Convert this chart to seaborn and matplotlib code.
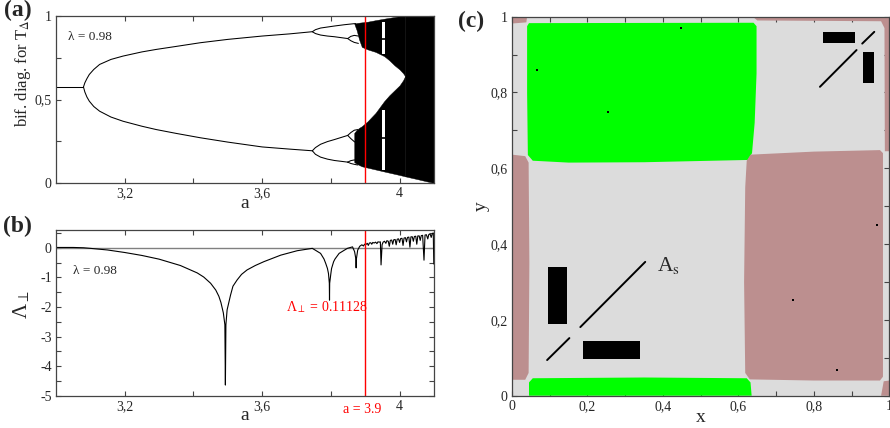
import matplotlib
matplotlib.use("Agg")
import matplotlib.pyplot as plt
import matplotlib.ticker as mticker
import seaborn as sns

# ---------------- panel (a): bifurcation diagram
fixed_a = [3.00, 3.080]
fixed_y = [0.575, 0.575]

p2_up_a = [3.080, 3.084, 3.090, 3.097, 3.110, 3.127, 3.160, 3.195, 3.250, 3.292, 3.350, 3.420, 3.500, 3.600, 3.680, 3.746]
p2_up_y = [0.575, 0.600, 0.625, 0.650, 0.680, 0.710, 0.740, 0.760, 0.785, 0.800, 0.818, 0.840, 0.860, 0.880, 0.893, 0.906]
p2_lo_a = [3.080, 3.084, 3.090, 3.097, 3.110, 3.127, 3.160, 3.195, 3.250, 3.292, 3.350, 3.420, 3.500, 3.600, 3.680, 3.746]
p2_lo_y = [0.575, 0.545, 0.515, 0.490, 0.458, 0.430, 0.395, 0.370, 0.340, 0.320, 0.297, 0.271, 0.245, 0.216, 0.203, 0.193]

# period 4 and 8 branches
p4_branches_a = [
    [3.746, 3.755, 3.770, 3.790, 3.810, 3.840, 3.872],
    [3.746, 3.755, 3.770, 3.790, 3.810, 3.849],
    [3.849, 3.858, 3.868, 3.880],
    [3.849, 3.858, 3.868, 3.880],
    [3.746, 3.755, 3.770, 3.790, 3.810, 3.849],
    [3.849, 3.858, 3.868, 3.878],
    [3.849, 3.858, 3.868, 3.878],
    [3.746, 3.755, 3.770, 3.790, 3.810, 3.849],
    [3.849, 3.858, 3.868, 3.878],
    [3.849, 3.858, 3.868, 3.878],
]
p4_branches_y = [
    [0.906, 0.918, 0.928, 0.934, 0.940, 0.948, 0.955],
    [0.906, 0.895, 0.886, 0.880, 0.876, 0.865],
    [0.865, 0.878, 0.884, 0.880],
    [0.865, 0.852, 0.842, 0.836],
    [0.193, 0.212, 0.232, 0.248, 0.260, 0.285],
    [0.285, 0.302, 0.316, 0.320],
    [0.285, 0.266, 0.248, 0.236],
    [0.193, 0.172, 0.155, 0.143, 0.135, 0.125],
    [0.125, 0.134, 0.138, 0.136],
    [0.125, 0.117, 0.112, 0.108],
]

# chaotic bands: upper band, lower band, and the merged band after the crisis
band_a = [3.868, 3.875, 3.882, 3.890, 3.907, 3.930, 3.955, 3.970, 3.985, 4.000, 4.010, 4.016]
up_band_top = [0.954, 0.958, 0.960, 0.962, 0.966, 0.975, 0.984, 0.989, 0.994, 0.999, 1.000, 1.000]
up_band_bot = [0.954, 0.915, 0.860, 0.815, 0.800, 0.785, 0.760, 0.735, 0.705, 0.680, 0.658, 0.640]
lo_band_top = [0.300, 0.318, 0.330, 0.340, 0.370, 0.420, 0.490, 0.525, 0.555, 0.585, 0.615, 0.640]
lo_band_bot = [0.125, 0.115, 0.108, 0.100, 0.092, 0.081, 0.069, 0.062, 0.055, 0.048, 0.043, 0.040]
merged_a = [4.016, 4.050, 4.100]
merged_top = [1.000, 1.000, 1.000]
merged_bot = [0.040, 0.024, 0.000]

# periodic window inside the chaos
window_a = [3.950, 3.958]
window_lo_band = [0.075, 0.440]
window_hi_band = [0.770, 0.962]
window_orbit = [0.27, 0.86]

a_marked = 3.9
lam_text = "λ = 0.98"

# ---------------- panel (b): transversal Lyapunov exponent
lyap_a = [3.000, 3.050, 3.080, 3.100, 3.150, 3.200, 3.250, 3.300, 3.362, 3.411, 3.430, 3.450,
          3.465, 3.474, 3.480, 3.487, 3.4915, 3.493, 3.4945, 3.498, 3.508, 3.515, 3.527, 3.540,
          3.556, 3.580, 3.605, 3.654, 3.702, 3.746,
          3.770, 3.780, 3.785, 3.790, 3.793, 3.7955, 3.796, 3.7965, 3.800, 3.802, 3.808, 3.812,
          3.824, 3.848, 3.863, 3.869, 3.8730, 3.8735, 3.8740, 3.878,
          3.884, 3.890, 3.895, 3.898, 3.902, 3.906, 3.909, 3.912, 3.916, 3.919, 3.922, 3.926,
          3.930, 3.934, 3.937, 3.941, 3.944, 3.946, 3.949, 3.952, 3.956, 3.960, 3.963, 3.967,
          3.970, 3.973, 3.977, 3.980, 3.983, 3.987, 3.990, 3.993, 3.997, 4.000, 4.003, 4.007,
          4.010, 4.013, 4.017, 4.020, 4.023, 4.027, 4.030, 4.033, 4.037, 4.040, 4.043, 4.047,
          4.050, 4.053, 4.057, 4.060, 4.063, 4.067, 4.071, 4.074, 4.078, 4.082, 4.085, 4.089,
          4.092, 4.095, 4.098, 4.0995]
lyap_v = [0.010, 0.010, 0.000, -0.020, -0.075, -0.160, -0.260, -0.385, -0.600, -0.850, -0.990, -1.200,
          -1.430, -1.640, -1.850, -2.200, -2.600, -4.640, -2.600, -2.100, -1.600, -1.300, -1.090, -0.900,
          -0.750, -0.600, -0.470, -0.250, -0.100, -0.020,
          -0.190, -0.380, -0.530, -0.700, -0.870, -1.200, -1.770, -1.200, -0.870, -0.700, -0.470, -0.380,
          -0.190, -0.020, 0.030, -0.130, -0.400, -0.680, -0.400, -0.080,
          0.050, 0.100, 0.060, 0.120, 0.110, 0.150, 0.080, 0.160, 0.170, 0.120, 0.180, 0.160,
          0.190, 0.140, 0.200, 0.190, 0.200, -0.580, 0.100, 0.190, 0.220, 0.150, 0.240, 0.220,
          0.050, 0.250, 0.260, 0.120, 0.270, 0.280, 0.100, 0.290, 0.300, 0.180, 0.310, 0.320,
          0.080, 0.330, 0.340, 0.200, 0.350, 0.360, 0.020, 0.370, 0.370, 0.220, 0.380, 0.390,
          0.120, 0.400, 0.400, 0.250, 0.410, 0.420, -0.420, 0.430, 0.440, 0.300, 0.450, 0.460,
          0.350, 0.480, 0.500, -0.550]
lyap_text = "Λ$_{\\perp}$ = 0.11128"

# ---------------- panel (c): basins of attraction
green_polys = [
    ([0.045, 0.640, 0.648, 0.648, 0.643, 0.636, 0.625, 0.350, 0.150, 0.055, 0.042, 0.040, 0.040],
     [0.983, 0.984, 0.975, 0.850, 0.720, 0.640, 0.622, 0.616, 0.615, 0.620, 0.635, 0.800, 0.975]),
    ([0.045, 0.045, 0.055, 0.350, 0.622, 0.632, 0.635],
     [0.000, 0.035, 0.046, 0.048, 0.046, 0.035, 0.000]),
]
brown_polys = [
    ([0.632, 0.800, 0.975, 0.983, 0.983, 0.975, 0.800, 0.630, 0.618, 0.615, 0.618, 0.622],
     [0.636, 0.644, 0.648, 0.640, 0.050, 0.040, 0.040, 0.043, 0.060, 0.300, 0.550, 0.620]),
    ([0.000, 0.035, 0.044, 0.046, 0.044, 0.035, 0.000],
     [0.042, 0.042, 0.060, 0.350, 0.615, 0.632, 0.636]),
    ([0.638, 1.000, 1.000, 0.988, 0.987, 0.978, 0.650],
     [1.000, 1.000, 0.645, 0.645, 0.970, 0.988, 0.990]),
    ([0.000, 0.040, 0.038, 0.000], [1.000, 1.000, 0.985, 0.982]),
    ([0.978, 1.000, 1.000, 0.985], [0.000, 0.000, 0.040, 0.038]),
]
black_boxes = [  # x0, x1, y0, y1
    (0.095, 0.146, 0.190, 0.340),
    (0.189, 0.340, 0.096, 0.145),
    (0.824, 0.908, 0.931, 0.959),
    (0.929, 0.959, 0.824, 0.908),
]
diag_x = [[0.093, 0.152], [0.181, 0.353], [0.816, 0.913], [0.928, 0.960]]
diag_y = [[0.094, 0.152], [0.181, 0.353], [0.815, 0.912], [0.929, 0.960]]
speck_x = [0.065, 0.255, 0.449, 0.745, 0.967, 0.860]
speck_y = [0.860, 0.748, 0.970, 0.252, 0.450, 0.068]

ticks_a_x = [3.2, 3.6, 4.0]
labels_a_x = ["3,2", "3,6", "4"]
ticks_a_y = [0, 0.5, 1]
labels_a_y = ["0", "0,5", "1"]
ticks_b_y = [-5, -4, -3, -2, -1, 0]
labels_b_y = ["-5", "-4", "-3", "-2", "-1", "0"]
ticks_c = [0, 0.2, 0.4, 0.6, 0.8, 1.0]
labels_c = ["0", "0,2", "0,4", "0,6", "0,8", "1"]

BROWN = "#bc8f8f"
GREEN = "#00ff00"
GREY = "#dcdcdc"

sns.set_theme(style="ticks")
plt.rcParams["font.family"] = ["Liberation Serif", "DejaVu Serif"]
plt.rcParams["mathtext.fontset"] = "stix"
plt.rcParams["axes.unicode_minus"] = False


def style_axes(ax, xmaj, xlab, xminor, ymaj, ylab, yminor):
    ax.set_xticks(xmaj)
    ax.set_xticklabels(xlab)
    ax.set_yticks(ymaj)
    ax.set_yticklabels(ylab)
    ax.xaxis.set_minor_locator(mticker.FixedLocator(xminor))
    ax.yaxis.set_minor_locator(mticker.FixedLocator(yminor))
    ax.tick_params(which="both", direction="in", top=True, right=True,
                   length=3.6, width=0.8, color="#444444", labelsize=10, pad=3)
    for sp in ax.spines.values():
        sp.set_color("#444444")
        sp.set_linewidth(0.9)


fig = plt.figure(figsize=(8.9, 4.28), dpi=100)
ax_a = fig.add_axes([0.0629, 0.5724, 0.4247, 0.3902])
ax_b = fig.add_axes([0.0629, 0.0755, 0.4247, 0.3871])
ax_c = fig.add_axes([0.5753, 0.0755, 0.4240, 0.8855])

# ---- (a)
ax_a.fill_between(band_a, up_band_bot, up_band_top, color="black", lw=0.3)
ax_a.fill_between(band_a, lo_band_bot, lo_band_top, color="black", lw=0.3)
ax_a.fill_between(merged_a, merged_bot, merged_top, color="black", lw=0.3)
ax_a.fill_between(window_a, window_lo_band[0], window_lo_band[1], color="white", lw=0)
ax_a.fill_between(window_a, window_hi_band[0], window_hi_band[1], color="white", lw=0)
for yo in window_orbit:
    ax_a.plot(window_a, [yo, yo], color="black", lw=1.2)
sns.lineplot(x=fixed_a, y=fixed_y, ax=ax_a, color="black", lw=0.75, sort=False, estimator=None)
sns.lineplot(x=p2_up_a, y=p2_up_y, ax=ax_a, color="black", lw=0.75, sort=False, estimator=None)
sns.lineplot(x=p2_lo_a, y=p2_lo_y, ax=ax_a, color="black", lw=0.75, sort=False, estimator=None)
for xa, ya in zip(p4_branches_a, p4_branches_y):
    sns.lineplot(x=xa, y=ya, ax=ax_a, color="black", lw=0.75, sort=False, estimator=None)
ax_a.axvline(a_marked, color="red", lw=1.0)
ax_a.set_xlim(3.0, 4.1)
ax_a.set_ylim(0, 1)
style_axes(ax_a, ticks_a_x, labels_a_x, [3.4, 3.8], ticks_a_y, labels_a_y, [0.25, 0.75])
ax_a.text(3.035, 0.875, lam_text, fontsize=9.5, va="center", ha="left")
ax_a.set_xlabel("a", fontsize=14)
ax_a.set_ylabel("bif. diag. for T$_{\\Delta}$", fontsize=12)
ax_a.xaxis.set_label_coords(0.5, -0.07)
ax_a.yaxis.set_label_coords(-0.062, 0.655)

# ---- (b)
ax_b.axhline(0, color="#808080", lw=1.0)
sns.lineplot(x=lyap_a, y=lyap_v, ax=ax_b, color="black", lw=0.8, sort=False, estimator=None)
ax_b.axvline(a_marked, color="red", lw=1.0)
ax_b.set_xlim(3.0, 4.1)
ax_b.set_ylim(-5, 0.6)
style_axes(ax_b, ticks_a_x, labels_a_x, [3.4, 3.8], ticks_b_y, labels_b_y,
           [-4.5, -3.5, -2.5, -1.5, -0.5, 0.5])
ax_b.text(3.05, -0.79, lam_text, fontsize=9.5, va="center", ha="left")
ax_b.text(3.668, -2.02, lyap_text, fontsize=10, color="red", va="center", ha="left")
ax_b.text(3.892, -0.082, "a = 3.9", fontsize=10, color="red", va="center", ha="center",
          transform=ax_b.get_xaxis_transform())
ax_b.set_xlabel("a", fontsize=14)
ax_b.set_ylabel("Λ$_{\\perp}$", fontsize=15)
ax_b.xaxis.set_label_coords(0.5, -0.07)
ax_b.yaxis.set_label_coords(-0.063, 0.55)

# ---- (c)
ax_c.set_facecolor(GREY)
for px, py in green_polys:
    ax_c.fill(px, py, color=GREEN, lw=0)
for px, py in brown_polys:
    ax_c.fill(px, py, color=BROWN, lw=0)
for x0, x1, y0, y1 in black_boxes:
    ax_c.fill([x0, x1, x1, x0], [y0, y0, y1, y1], color="black", lw=0)
for dx, dy in zip(diag_x, diag_y):
    sns.lineplot(x=dx, y=dy, ax=ax_c, color="black", lw=1.4, sort=False, estimator=None)
ax_c.scatter(speck_x, speck_y, s=2, color="black", marker="s", lw=0)
ax_c.text(0.384, 0.33, "A$_{\\mathrm{s}}$", fontsize=15.5, ha="left", va="baseline")
ax_c.set_xlim(0, 1)
ax_c.set_ylim(0, 1)
style_axes(ax_c, ticks_c, labels_c, [0.1, 0.3, 0.5, 0.7, 0.9], ticks_c, labels_c,
           [0.1, 0.3, 0.5, 0.7, 0.9])
ax_c.set_xlabel("x", fontsize=14)
ax_c.set_ylabel("y", fontsize=14)
ax_c.xaxis.set_label_coords(0.5, -0.035)
ax_c.yaxis.set_label_coords(-0.06, 0.5)

fig.text(0.005, 0.975, "(a)", fontsize=17, fontweight="bold", va="center", ha="left")
fig.text(0.003, 0.472, "(b)", fontsize=17, fontweight="bold", va="center", ha="left")
fig.text(0.5146, 0.951, "(c)", fontsize=17, fontweight="bold", va="center", ha="left")

fig.savefig("out.png", dpi=100)
